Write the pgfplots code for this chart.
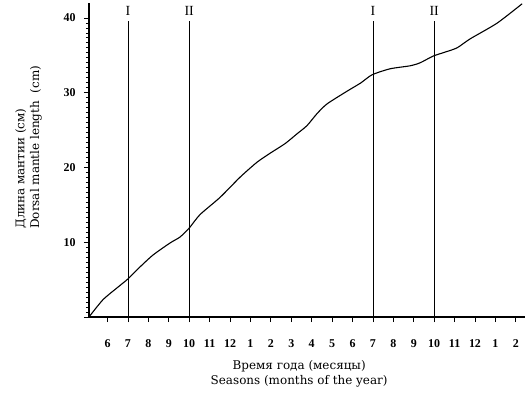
\documentclass[border=0pt]{standalone}
\usepackage{fontspec}
\setmainfont{Liberation Serif}
\newfontfamily\lblfont{DejaVu Serif}
\usepackage{pgfplots}
\pgfplotsset{compat=1.18}
\begin{document}
\begin{tikzpicture}
\useasboundingbox (-89bp,-80bp) rectangle (437bp,317bp);
\begin{axis}[
  at={(0,0)}, anchor=south west,
  scale only axis, width=436bp, height=314bp,
  xmin=-0.91, xmax=20.45, ymin=0, ymax=42,
  axis x line*=bottom, axis y line*=left,
  axis line style={line width=1.1pt, black},
  clip=false,
  xtick={0,...,20},
  xticklabels={6,7,8,9,10,11,12,1,2,3,4,5,6,7,8,9,10,11,12,1,2},
  ytick={0,10,20,30,40},
  yticklabels={,10,20,30,40},
  minor y tick num=14,
  tick align=outside,
  major tick length=5bp, minor tick length=3bp,
  tick style={line width=0.8pt, black},
  /pgf/number format/assume math mode=true,
  ticklabel style={font=\bfseries\fontsize{12}{14}\selectfont},
  xticklabel style={yshift=-14bp},
  yticklabel style={xshift=-5bp},
  xlabel={Время года (месяцы)\\Seasons (months of the year)},
  xlabel style={align=center, font=\lblfont\fontsize{12}{15}\selectfont, at={(axis description cs:0.482,0)}, anchor=north, yshift=-40bp},
  ylabel={Длина мантии (см)\\Dorsal mantle length\ \ (cm)},
  ylabel style={align=left, font=\lblfont\fontsize{12}{15}\selectfont, at={(axis description cs:-0.1,0.27)}, anchor=south west},
]
\addplot[black, line width=1.1pt, smooth, tension=0.4] coordinates {
(-0.91,0) (-0.23,2.3) (0.51,4.0) (1.0,5.1) (1.59,6.7) (2.23,8.3) (3.06,9.9)
(3.55,10.7) (4.0,11.9) (4.53,13.7) (5.51,16.0) (6.49,18.7) (7.32,20.7)
(7.96,21.9) (8.70,23.2) (9.28,24.5) (9.77,25.6) (10.26,27.2) (10.75,28.5)
(11.73,30.2) (12.4,31.3) (12.96,32.4) (13.84,33.2) (14.82,33.6) (15.31,34.0)
(15.95,34.9) (16.5,35.4) (17.12,36.0) (17.76,37.2) (19.08,39.3) (20.31,41.9)
};
\addplot[black, line width=0.7pt] coordinates {(1,-0.7) (1,39.6)};
\addplot[black, line width=0.7pt] coordinates {(4,-0.7) (4,39.6)};
\addplot[black, line width=0.7pt] coordinates {(13,-0.7) (13,39.6)};
\addplot[black, line width=0.7pt] coordinates {(16,-0.7) (16,39.6)};
\node[font=\fontsize{14}{16}\selectfont] at (axis cs:1,41.0) {I};
\node[font=\fontsize{14}{16}\selectfont] at (axis cs:4,41.0) {II};
\node[font=\fontsize{14}{16}\selectfont] at (axis cs:13,41.0) {I};
\node[font=\fontsize{14}{16}\selectfont] at (axis cs:16,41.0) {II};
\end{axis}
\end{tikzpicture}
\end{document}
